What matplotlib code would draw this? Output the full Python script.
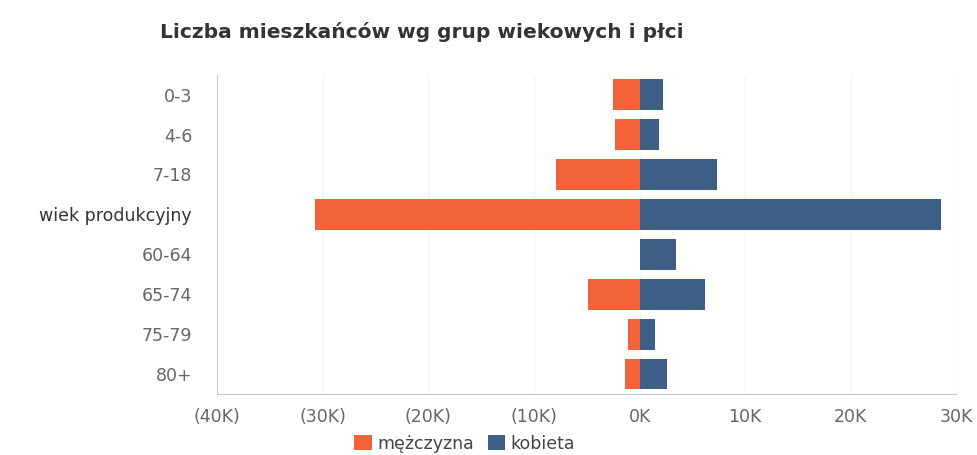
import numpy as np
import matplotlib.pyplot as plt

groups = ['0-3', '4-6', '7-18', 'wiek produkcyjny', '60-64', '65-74', '75-79', '80+']
mezczyzna = [2500, 2300, 7900, 30700, 0, 4900, 1100, 1350]
kobieta = [2200, 1850, 7300, 28500, 3400, 6200, 1500, 2600]
ticks = [-40000, -30000, -20000, -10000, 0, 10000, 20000, 30000]
tick_labels = ['(40K)', '(30K)', '(20K)', '(10K)', '0K', '10K', '20K', '30K']

c_m = '#f4623a'
c_k = '#3e5f85'

fig = plt.figure(figsize=(9.78, 4.55), dpi=100)
ax = fig.add_axes([0.222, 0.134, 0.756, 0.702])

y = np.arange(len(groups))
ax.barh(y, -np.array(mezczyzna), height=0.77, color=c_m, label='mężczyzna', zorder=3)
ax.barh(y, kobieta, height=0.77, color=c_k, label='kobieta', zorder=3)

ax.set_xlim(-40000, 30000)
ax.set_ylim(len(groups) - 0.5, -0.5)
ax.set_xticks(ticks)
ax.set_xticklabels(tick_labels, fontsize=12.5, color='#666666')
ax.set_yticks(y)
ax.set_yticklabels(groups, fontsize=12.5, color='#666666')
ax.get_yticklabels()[3].set_color('#333333')
ax.tick_params(length=0, pad=10)
ax.tick_params(axis='y', pad=18)
ax.grid(axis='x', color='#f4f4f4', linewidth=1, zorder=0)
for s in ['top', 'right']:
    ax.spines[s].set_visible(False)
for s in ['left', 'bottom']:
    ax.spines[s].set_color('#c8c8c8')

fig.text(0.164, 0.93, 'Liczba mieszkańców wg grup wiekowych i płci', fontsize=14.5,
         fontweight='bold', color='#333333', va='center')

fig.legend(loc='center', bbox_to_anchor=(0.475, 0.025), ncol=2, frameon=False,
           fontsize=12.5, handlelength=1.0, handleheight=0.9, handletextpad=0.3,
           columnspacing=0.8, labelcolor='#444444')

fig.savefig('out.png', dpi=100)
